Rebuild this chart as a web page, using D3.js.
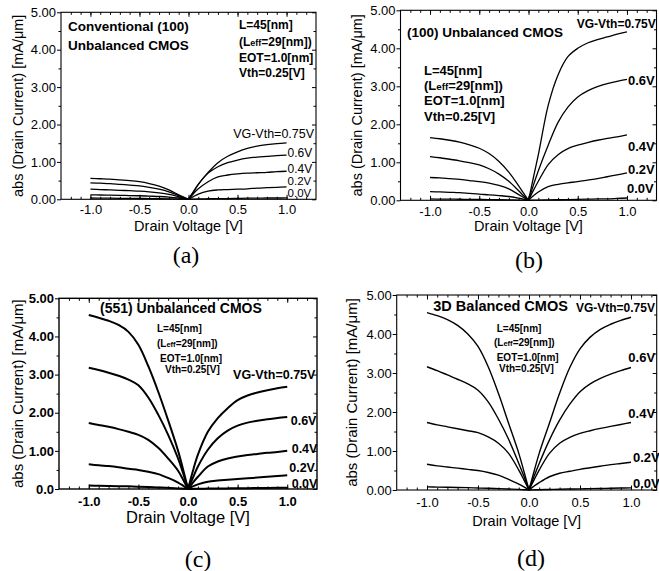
<!DOCTYPE html>
<html>
<head>
<meta charset="utf-8">
<script src="https://cdn.jsdelivr.net/npm/d3@7"></script>
<style>
  body { margin: 0; background: #fff; }
</style>
</head>
<body>
<div id="chart"></div>
<script>
// drain voltage sample points (negative and positive branch)
const vNeg = [-1.0, -0.9, -0.8, -0.7, -0.6, -0.5, -0.4, -0.3, -0.2, -0.1, -0.05, 0];
const vPos = [0, 0.05, 0.1, 0.2, 0.3, 0.4, 0.5, 0.6, 0.7, 0.8, 0.9, 1.0];

const gateLabels = ["VG-Vth=0.75V", "0.6V", "0.4V", "0.2V", "0.0V"];
const xTickVals = [-1, -0.5, 0, 0.5, 1];
const xTickLabels = ["-1.0", "-0.5", "0.0", "0.5", "1.0"];
const yTickVals = [0, 1, 2, 3, 4, 5];
const yTickLabels = ["0.00", "1.00", "2.00", "3.00", "4.00", "5.00"];
const yTickLabelsC = ["0.0", "1.00", "2.00", "3.00", "4.00", "5.00"];
const panelNames = ["(a)", "(b)", "(c)", "(d)"];

// rows: VG-Vth = 0.75, 0.6, 0.4, 0.2, 0.0  (abs drain current, mA/um)
const convNeg = [
  [0.56, 0.55, 0.54, 0.52, 0.5, 0.47, 0.42, 0.35, 0.25, 0.12, 0.06, 0],
  [0.44, 0.43, 0.42, 0.4, 0.38, 0.36, 0.32, 0.27, 0.2, 0.1, 0.05, 0],
  [0.27, 0.26, 0.25, 0.24, 0.23, 0.22, 0.2, 0.17, 0.13, 0.07, 0.035, 0],
  [0.12, 0.115, 0.11, 0.105, 0.1, 0.095, 0.085, 0.075, 0.06, 0.035, 0.018, 0],
  [0.035, 0.032, 0.03, 0.027, 0.025, 0.022, 0.019, 0.015, 0.011, 0.006, 0.003, 0]
];
const convPos = [
  [0, 0.2, 0.4, 0.72, 0.98, 1.15, 1.27, 1.36, 1.42, 1.46, 1.49, 1.51],
  [0, 0.2, 0.4, 0.7, 0.87, 0.98, 1.05, 1.1, 1.13, 1.15, 1.17, 1.18],
  [0, 0.15, 0.28, 0.47, 0.6, 0.65, 0.68, 0.7, 0.71, 0.72, 0.74, 0.75],
  [0, 0.07, 0.14, 0.22, 0.25, 0.26, 0.27, 0.28, 0.3, 0.31, 0.32, 0.33],
  [0, 0.005, 0.01, 0.015, 0.02, 0.02, 0.025, 0.03, 0.03, 0.035, 0.035, 0.04]
];

const unbNeg = [
  [1.65, 1.62, 1.58, 1.53, 1.46, 1.37, 1.23, 1.02, 0.74, 0.38, 0.19, 0],
  [1.15, 1.12, 1.08, 1.04, 0.99, 0.93, 0.83, 0.69, 0.5, 0.25, 0.12, 0],
  [0.6, 0.59, 0.57, 0.55, 0.52, 0.49, 0.45, 0.39, 0.3, 0.15, 0.075, 0],
  [0.23, 0.22, 0.21, 0.2, 0.18, 0.16, 0.145, 0.125, 0.1, 0.055, 0.028, 0],
  [0.035, 0.032, 0.03, 0.027, 0.025, 0.022, 0.019, 0.015, 0.011, 0.006, 0.003, 0]
];
const unbPos = [
  [0, 0.6, 1.2, 2.5, 3.3, 3.78, 4.0, 4.14, 4.23, 4.3, 4.37, 4.43],
  [0, 0.4, 0.78, 1.45, 2.05, 2.45, 2.72, 2.88, 2.99, 3.07, 3.13, 3.18],
  [0, 0.26, 0.5, 0.94, 1.2, 1.36, 1.45, 1.52, 1.58, 1.63, 1.67, 1.72],
  [0, 0.12, 0.22, 0.36, 0.42, 0.46, 0.49, 0.53, 0.57, 0.62, 0.67, 0.72],
  [0, 0.003, 0.006, 0.01, 0.015, 0.02, 0.025, 0.03, 0.035, 0.04, 0.05, 0.06]
];

const s551Neg = [
  [4.56, 4.49, 4.41, 4.3, 4.12, 3.78, 3.22, 2.55, 1.8, 1.0, 0.52, 0],
  [3.18, 3.12, 3.05, 2.97, 2.87, 2.72, 2.4, 1.95, 1.42, 0.8, 0.42, 0],
  [1.73, 1.68, 1.63, 1.57, 1.5, 1.42, 1.29, 1.08, 0.8, 0.48, 0.25, 0],
  [0.65, 0.62, 0.6, 0.57, 0.53, 0.5, 0.45, 0.39, 0.29, 0.17, 0.09, 0],
  [0.09, 0.085, 0.08, 0.075, 0.07, 0.06, 0.05, 0.04, 0.03, 0.015, 0.008, 0]
];
const s551Pos = [
  [0, 0.48, 0.9, 1.5, 1.86, 2.12, 2.33, 2.45, 2.53, 2.59, 2.64, 2.68],
  [0, 0.3, 0.59, 1.03, 1.33, 1.53, 1.66, 1.74, 1.79, 1.83, 1.86, 1.89],
  [0, 0.17, 0.32, 0.59, 0.72, 0.8, 0.85, 0.89, 0.92, 0.95, 0.97, 1.0],
  [0, 0.07, 0.12, 0.19, 0.22, 0.24, 0.26, 0.28, 0.3, 0.32, 0.34, 0.36],
  [0, 0.003, 0.006, 0.01, 0.013, 0.016, 0.02, 0.022, 0.025, 0.028, 0.03, 0.032]
];

const balNeg = [
  [4.55, 4.47, 4.37, 4.22, 4.0, 3.68, 3.16, 2.48, 1.71, 0.94, 0.48, 0],
  [3.16, 3.06, 2.95, 2.84, 2.72, 2.56, 2.26, 1.82, 1.3, 0.68, 0.35, 0],
  [1.73, 1.67, 1.62, 1.57, 1.52, 1.47, 1.36, 1.2, 0.94, 0.51, 0.26, 0],
  [0.66, 0.62, 0.59, 0.56, 0.53, 0.5, 0.45, 0.38, 0.27, 0.15, 0.08, 0],
  [0.08, 0.075, 0.07, 0.065, 0.06, 0.05, 0.045, 0.035, 0.025, 0.015, 0.008, 0]
];
const balPos = [
  [0, 0.48, 0.94, 1.71, 2.48, 3.14, 3.62, 3.92, 4.12, 4.25, 4.35, 4.43],
  [0, 0.35, 0.68, 1.28, 1.79, 2.2, 2.52, 2.72, 2.86, 2.97, 3.06, 3.14],
  [0, 0.26, 0.51, 0.94, 1.2, 1.35, 1.45, 1.52, 1.58, 1.63, 1.68, 1.73],
  [0, 0.1, 0.19, 0.34, 0.43, 0.48, 0.53, 0.57, 0.61, 0.65, 0.68, 0.71],
  [0, 0.004, 0.008, 0.014, 0.02, 0.025, 0.03, 0.035, 0.04, 0.045, 0.05, 0.055]
];

const sans = "'Liberation Sans', Arial, sans-serif";
const serif = "'Liberation Serif', 'Times New Roman', serif";

const svg = d3.select("#chart").append("svg")
  .attr("width", 659).attr("height", 571)
  .style("font-family", sans);

const panels = [
  {
    neg: convNeg, pos: convPos, name: panelNames[0],
    left: 61, right: 316, top: 12.3, bottom: 199.3, xDomain: [-1.3, 1.3],
    bold: false, lw: 1.3, yLabels: yTickLabels,
    tickFont: 13, xTitleFont: 14.5, yTitleFont: 14.5,
    xTitleY: 231, yTitleX: 18, tickLabelDy: 15.7, nameX: 186, nameY: 263,
    title: ["Conventional (100)", "Unbalanced CMOS"], titleFont: 13.5,
    titlePos: [[68, 31], [68, 50]],
    paramFont: 12, paramPos: [[239, 29], [239, 45.5], [239, 61.5], [239, 77.3]],
    gateFont: [12.5, 12, 12, 11.5, 11.5], gateBold: false,
    gatePos: [[0.455, 1.63], [1.01, 1.14], [1.01, 0.70], [1.01, 0.38], [1.01, 0.05]]
  },
  {
    neg: unbNeg, pos: unbPos, name: panelNames[1],
    left: 400.5, right: 656.5, top: 10.3, bottom: 200.3, xDomain: [-1.3, 1.3],
    bold: false, lw: 1.3, yLabels: yTickLabels,
    tickFont: 13, xTitleFont: 14.5, yTitleFont: 14.5,
    xTitleY: 231, yTitleX: 357, tickLabelDy: 16, nameX: 529, nameY: 268,
    title: ["(100) Unbalanced CMOS"], titleFont: 13.5,
    titlePos: [[407, 37.3]],
    paramFont: 13, paramPos: [[424, 75], [424, 89.5], [424, 105], [424, 120.5]],
    gateFont: [12, 13, 13, 13, 13], gateBold: true,
    gatePos: [[0.49, 4.53], [1.01, 3.03], [1.01, 1.30], [1.01, 0.69], [1.0, 0.18]]
  },
  {
    neg: s551Neg, pos: s551Pos, name: panelNames[2],
    left: 59, right: 317, top: 298.3, bottom: 489, xDomain: [-1.3, 1.3],
    bold: true, lw: 2, yLabels: yTickLabelsC,
    tickFont: 13, xTitleFont: 16.5, yTitleFont: 15,
    xTitleY: 523, yTitleX: 18, tickLabelDy: 17.7, nameX: 198, nameY: 567,
    title: ["(551) Unbalanced CMOS"], titleFont: 14,
    titlePos: [[100, 313.3]],
    paramFont: 10, paramPos: [[157, 332], [157, 347], [160, 361.5], [165, 373]],
    gateFont: [12.5, 12.5, 12.5, 12.5, 12.5], gateBold: true,
    gatePos: [[0.454, 2.88], [1.035, 1.68], [1.045, 0.94], [1.02, 0.44], [1.045, 0.02]]
  },
  {
    neg: balNeg, pos: balPos, name: panelNames[3],
    left: 396.7, right: 656.7, top: 295, bottom: 490, xDomain: [-1.297, 1.252],
    bold: false, lw: 1.4, yLabels: yTickLabels,
    tickFont: 13, xTitleFont: 14.5, yTitleFont: 15,
    xTitleY: 525.5, yTitleX: 352, tickLabelDy: 18, nameX: 531, nameY: 566,
    title: ["3D Balanced CMOS"], titleFont: 14.5,
    titlePos: [[433.3, 311]],
    paramFont: 10, paramPos: [[496.7, 331.7], [494, 346], [496.7, 361], [499, 372]],
    gateFont: [12, 13, 13, 13, 13], gateBold: true,
    gatePos: [[0.46, 4.57], [0.974, 3.29], [0.974, 1.84], [1.02, 0.73], [1.02, 0.04]]
  }
];

function paramText(g, pos, size, i) {
  const t = g.append("text")
    .attr("x", pos[0]).attr("y", pos[1])
    .attr("font-size", size + "px")
    .attr("font-weight", "bold");
  if (i === 0) t.text("L=45[nm]");
  if (i === 1) {
    t.append("tspan").text("(L");
    t.append("tspan").attr("font-size", (size * 0.75) + "px").text("eff");
    t.append("tspan").text("=29[nm])");
  }
  if (i === 2) t.text("EOT=1.0[nm]");
  if (i === 3) t.text("Vth=0.25[V]");
}

function drawPanel(p) {
  const x = d3.scaleLinear().domain(p.xDomain).range([p.left, p.right]);
  const y = d3.scaleLinear().domain([0, 5]).range([p.bottom, p.top]);
  const g = svg.append("g");
  const fw = p.bold ? "bold" : "normal";

  const line = d3.line()
    .x((d) => x(d[0]))
    .y((d) => y(d[1]))
    .curve(d3.curveCatmullRom.alpha(0.5));

  p.neg.forEach((row) => {
    g.append("path")
      .datum(vNeg.map((v, i) => [v, row[i]]))
      .attr("fill", "none")
      .attr("stroke", "#000")
      .attr("stroke-width", p.lw)
      .attr("d", line);
  });
  p.pos.forEach((row) => {
    g.append("path")
      .datum(vPos.map((v, i) => [v, row[i]]))
      .attr("fill", "none")
      .attr("stroke", "#000")
      .attr("stroke-width", p.lw)
      .attr("d", line);
  });

  // minor / major ticks
  const minorX = d3.range(-12, 13).map((i) => i / 10).filter((v) => v >= p.xDomain[0] && v <= p.xDomain[1]);
  const minorY = [0.5, 1.5, 2.5, 3.5, 4.5];

  g.append("g")
    .attr("transform", `translate(0,${p.bottom})`)
    .call(d3.axisBottom(x).tickValues(minorX).tickSizeInner(-2.5).tickSizeOuter(0).tickFormat(""));
  g.append("g")
    .attr("transform", `translate(0,${p.bottom})`)
    .call(d3.axisBottom(x).tickValues(xTickVals).tickSizeInner(-4.5).tickSizeOuter(0)
      .tickPadding(p.tickLabelDy - 10)
      .tickFormat((d, i) => xTickLabels[i]));
  g.append("g")
    .attr("transform", `translate(0,${p.top})`)
    .call(d3.axisTop(x).tickValues(minorX).tickSizeInner(-2.5).tickSizeOuter(0).tickFormat(""));
  g.append("g")
    .attr("transform", `translate(0,${p.top})`)
    .call(d3.axisTop(x).tickValues(xTickVals).tickSizeInner(-4.5).tickSizeOuter(0).tickFormat(""));

  g.append("g")
    .attr("transform", `translate(${p.left},0)`)
    .call(d3.axisLeft(y).tickValues(yTickVals).tickSizeInner(4).tickSizeOuter(0)
      .tickPadding(1)
      .tickFormat((d, i) => p.yLabels[i]));
  g.append("g")
    .attr("transform", `translate(${p.left},0)`)
    .call(d3.axisLeft(y).tickValues(minorY).tickSizeInner(2.5).tickSizeOuter(0).tickFormat(""));
  g.append("g")
    .attr("transform", `translate(${p.right},0)`)
    .call(d3.axisRight(y).tickValues(yTickVals).tickSizeInner(-4).tickSizeOuter(0).tickFormat(""));
  g.append("g")
    .attr("transform", `translate(${p.right},0)`)
    .call(d3.axisRight(y).tickValues(minorY).tickSizeInner(-2.5).tickSizeOuter(0).tickFormat(""));

  g.selectAll(".domain").remove();
  g.selectAll(".tick line").attr("stroke", "#000").attr("stroke-width", 1);
  g.selectAll(".tick text")
    .attr("fill", "#000")
    .attr("font-size", p.tickFont + "px")
    .attr("font-weight", fw)
    .attr("font-family", sans);

  g.append("rect")
    .attr("x", p.left).attr("y", p.top)
    .attr("width", p.right - p.left).attr("height", p.bottom - p.top)
    .attr("fill", "none")
    .attr("stroke", "#000")
    .attr("stroke-width", p.bold ? 1.4 : 1.1);

  // axis titles
  g.append("text")
    .attr("x", (p.left + p.right) / 2)
    .attr("y", p.xTitleY)
    .attr("text-anchor", "middle")
    .attr("font-size", p.xTitleFont + "px")
    .text("Drain Voltage [V]");

  g.append("text")
    .attr("transform", `translate(${p.yTitleX},${(p.top + p.bottom) / 2}) rotate(-90)`)
    .attr("text-anchor", "middle")
    .attr("dy", "0.35em")
    .attr("font-size", p.yTitleFont + "px")
    .text("abs (Drain Current) [mA/\u03bcm]");

  // panel title and parameters
  p.title.forEach((t, i) => {
    g.append("text")
      .attr("x", p.titlePos[i][0]).attr("y", p.titlePos[i][1])
      .attr("font-size", p.titleFont + "px")
      .attr("font-weight", "bold")
      .text(t);
  });
  p.paramPos.forEach((pos, i) => paramText(g, pos, p.paramFont, i));

  // gate voltage labels
  gateLabels.forEach((t, i) => {
    g.append("text")
      .attr("x", x(p.gatePos[i][0]))
      .attr("y", y(p.gatePos[i][1]))
      .attr("font-size", p.gateFont[i] + "px")
      .attr("font-weight", p.gateBold ? "bold" : "normal")
      .text(t);
  });

  // panel name
  svg.append("text")
    .attr("x", p.nameX).attr("y", p.nameY)
    .attr("text-anchor", "middle")
    .attr("font-family", serif)
    .attr("font-size", "24px")
    .text(p.name);
}

panels.forEach(drawPanel);
</script>
</body>
</html>
